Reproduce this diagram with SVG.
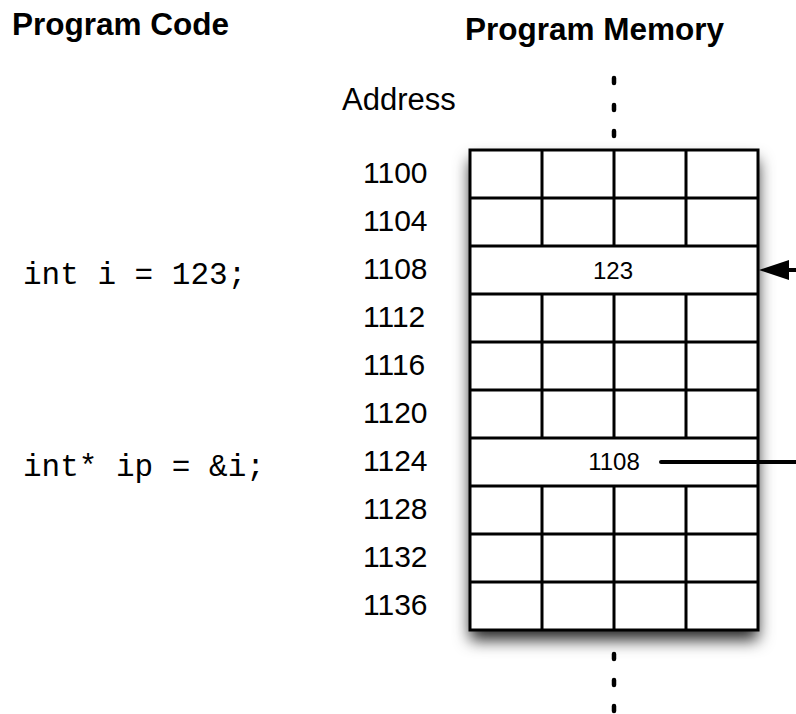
<svg xmlns="http://www.w3.org/2000/svg" width="796" height="714" viewBox="0 0 796 714">
<style>
.title{font-family:"Liberation Sans",Arial,sans-serif;font-weight:bold;font-size:31.5px;fill:#000}
.addr{font-family:"Liberation Sans",Arial,sans-serif;font-size:30px;fill:#000}
.code{font-family:"Liberation Mono","Courier New",monospace;font-size:31px;fill:#000}
.val{font-family:"Liberation Sans",Arial,sans-serif;font-size:24px;fill:#000;text-anchor:middle}
.grid{fill:none;stroke:#000;stroke-width:3}
.dots{stroke:#000;stroke-width:4.5;stroke-linecap:round;fill:none}
.conn{stroke:#000;stroke-width:4;fill:none}
</style>
<defs>
<filter id="shadow" x="-20%" y="-20%" width="140%" height="140%">
<feDropShadow dx="0" dy="10" stdDeviation="8" flood-color="#000" flood-opacity="0.85"/>
</filter>
</defs>
<rect width="796" height="714" fill="#fff"/>
<g id="titles">
<text class="title" x="12" y="35">Program Code</text>
<text class="title" x="465" y="40">Program Memory</text>
</g>
<g id="code">
<text class="code" x="23" y="284">int i = 123;</text>
<text class="code" x="23" y="476">int* ip = &amp;i;</text>
</g>
<g id="addresses">
<text class="addr" x="342" y="110" style="font-size:31px">Address</text>
<text class="addr" x="363" y="183">1100</text>
<text class="addr" x="363" y="231">1104</text>
<text class="addr" x="363" y="279">1108</text>
<text class="addr" x="363" y="327">1112</text>
<text class="addr" x="363" y="375">1116</text>
<text class="addr" x="363" y="423">1120</text>
<text class="addr" x="363" y="471">1124</text>
<text class="addr" x="363" y="519">1128</text>
<text class="addr" x="363" y="567">1132</text>
<text class="addr" x="363" y="615">1136</text>
</g>
<g id="dots-top">
<path class="dots" d="M614 78v5M614 105v5M614 131v5"/>
</g>
<g id="dots-bottom">
<path class="dots" d="M614 654v5M614 680v5M614 706v5"/>
</g>
<g id="memory">
<rect x="470" y="150" width="288" height="480" fill="#fff" filter="url(#shadow)"/>
<path class="grid" d="M470 198H758M470 246H758M470 294H758M470 342H758M470 390H758M470 438H758M470 486H758M470 534H758M470 582H758"/>
<path class="grid" d="M542 150V246M614 150V246M686 150V246M542 294V438M614 294V438M686 294V438M542 486V630M614 486V630M686 486V630"/>
<rect class="grid" x="470" y="150" width="288" height="480"/>
</g>
<g id="cell-1108">
<text class="val" x="613" y="279">123</text>
</g>
<g id="cell-1124">
<text class="val" x="614" y="470">1108</text>
</g>
<g id="connectors">
<line class="conn" x1="661" y1="462" x2="796" y2="462" stroke-linecap="round"/>
<line class="conn" x1="786" y1="270" x2="796" y2="270"/>
<polygon points="759,270 789,260 789,280" fill="#000"/>
</g>
</svg>
